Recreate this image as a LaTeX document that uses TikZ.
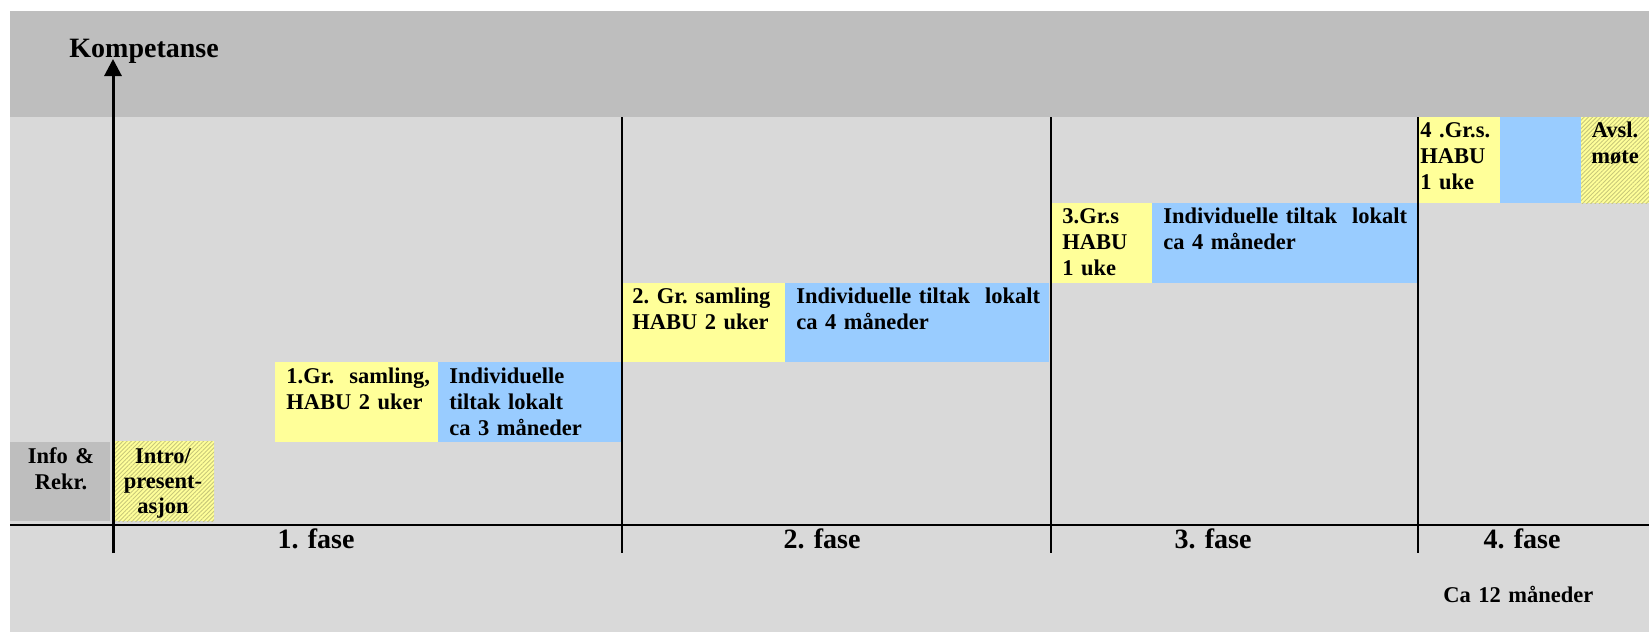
\documentclass[tikz,border=0pt]{standalone}
\usepackage{fontspec}
\setmainfont{Liberation Serif}
\usetikzlibrary{arrows.meta,patterns.meta}

\definecolor{mork}{HTML}{BEBEBE}
\definecolor{lys}{HTML}{D9D9D9}
\definecolor{gul}{HTML}{FFFF99}
\definecolor{bla}{HTML}{99CCFF}
\definecolor{skravur}{HTML}{C8C87A}

\begin{document}
\begin{tikzpicture}[x=0.5pt,y=-0.5pt,
	tekst/.style={font=\bfseries\frenchspacing\fontsize{11.25}{13}\selectfont,inner sep=0pt,text width=#1,align=left,anchor=base west},
	tekst/.default=130pt,
	midt/.style={tekst=#1,align=center,anchor=base},
	stor/.style={font=\bfseries\fontsize{14}{16}\selectfont,inner sep=0pt},
	skravert/.style={preaction={fill=gul},pattern={Lines[angle=45,distance=1.5pt,line width=0.45pt]},pattern color=skravur},
	akse/.style={line width=1.5pt,-{Triangle[width=8.5pt,length=8.5pt]}},
	skille/.style={line width=1pt}
]
	\useasboundingbox (0,0) rectangle (1649,632);

	% bakgrunn
	\fill[lys] (10,11) rectangle (1649,632);
	\fill[mork] (10,11) rectangle (1649,117);

	% trinn
	\fill[mork] (10,442) rectangle (110,521);
	\path[skravert] (114,441) rectangle (214,521);
	\foreach \xa/\xb/\xc/\ya/\yb in {275/438/621/362/442,623/785/1049/283/362,1052/1152/1417/203/283,1419/1500/1581/117/203} {
		\fill[gul] (\xa,\ya) rectangle (\xb,\yb);
		\fill[bla] (\xb,\ya) rectangle (\xc,\yb);
	}
	\path[skravert] (1581,117) rectangle (1649,203);

	% akser
	\coordinate (origo) at (113,553);
	\coordinate (topp) at (113,59);
	\coordinate (venstre) at (10,525);
	\coordinate (hoyre) at (1649,525);
	\draw[line width=1.25pt] (venstre) -- (hoyre);
	\foreach \x in {622,1051,1418}
		\draw[skille] (\x,117) -- (\x,553);
	\draw[akse] (origo) -- (topp);

	\node[stor,anchor=base west] (kompetanse) at (69,57) {Kompetanse};

	\node[midt=90pt] (info) at (61,463) {Info \&\\Rekr.};
	\node[midt=90pt,font=\bfseries\fontsize{11.25}{12.5}\selectfont] (intro) at (163,463) {Intro/\\present-\\asjon};
	\node[tekst] (samling1) at (286,383) {1.Gr.~ samling,\\HABU 2 uker};
	\node[tekst] (lokalt1) at (449,383) {Individuelle\\tiltak lokalt\\ca 3 måneder};
	\node[tekst] (samling2) at (632,303) {2. Gr. samling\\HABU 2 uker};
	\node[tekst] (lokalt2) at (796,303) {Individuelle tiltak~ lokalt\\ca 4 måneder};
	\node[tekst] (samling3) at (1062,223) {3.Gr.s\\HABU\\1 uke};
	\node[tekst] (lokalt3) at (1163,223) {Individuelle tiltak~ lokalt\\ca 4 måneder};
	\node[tekst] (samling4) at (1420,137) {4 .Gr.s.\\HABU\\1 uke};
	\node[midt=60pt] (avslutning) at (1615,137) {Avsl.\\møte};

	\foreach \x/\n in {316/1,822/2,1213/3,1522/4}
		\node[stor,anchor=base] (fase\n) at (\x,548) {\n. fase};

	\node[tekst] (varighet) at (1443,602) {Ca 12 måneder};
\end{tikzpicture}
\end{document}
